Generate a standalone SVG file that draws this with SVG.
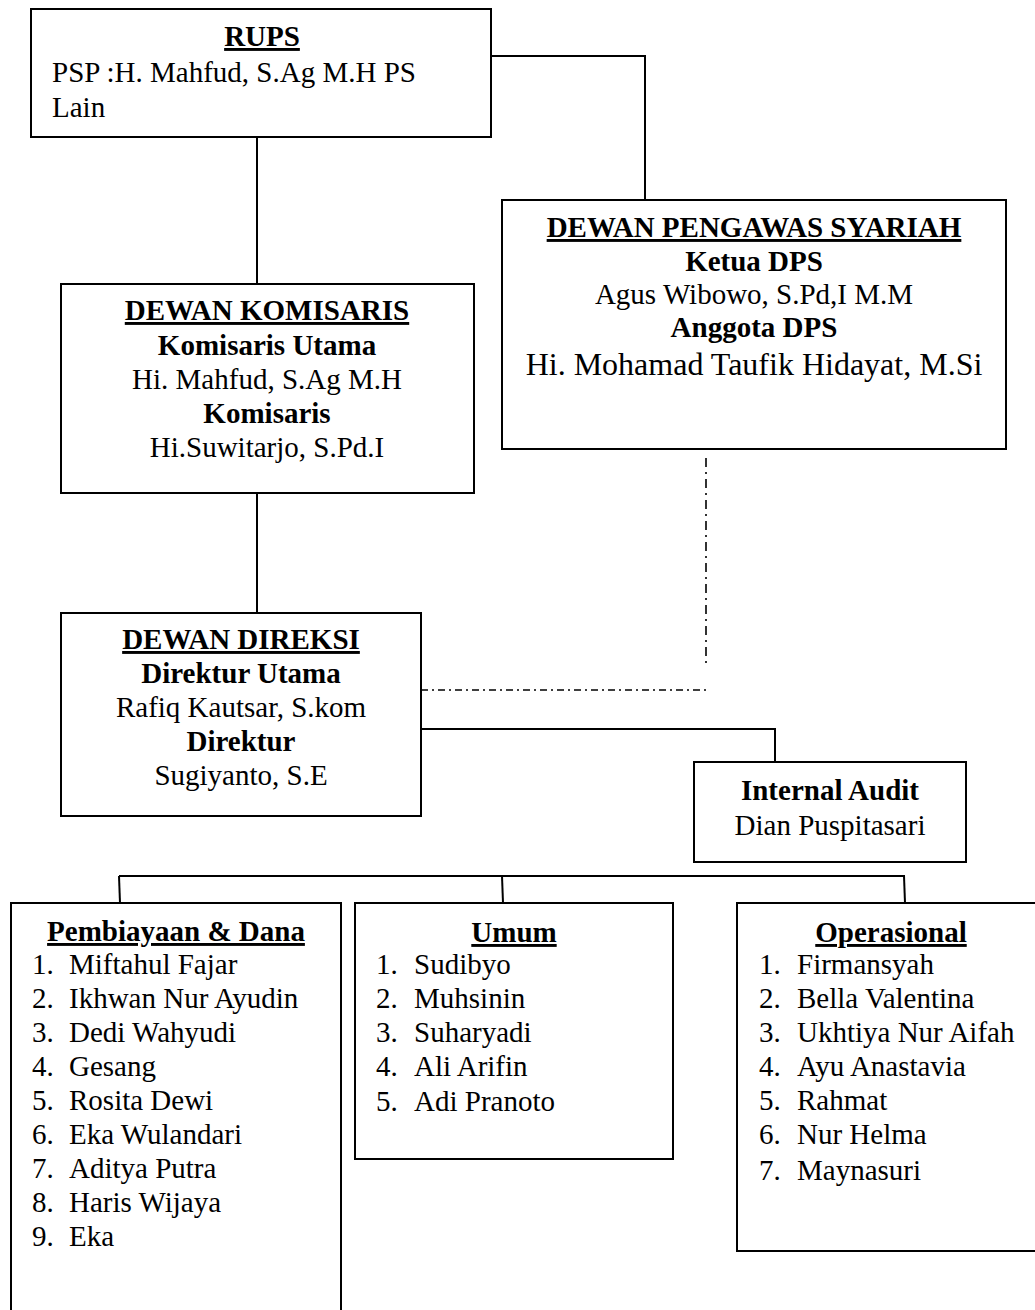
<svg xmlns="http://www.w3.org/2000/svg" width="1035" height="1310" viewBox="0 0 1035 1310">
<style>
text{font-family:"Liberation Serif","Times New Roman",serif;font-size:29px;fill:#000}
.b{font-weight:bold}
.u{font-weight:bold;text-decoration:underline}
.c{text-anchor:middle}
.box{fill:#fff;stroke:#000;stroke-width:2}
.ln{fill:none;stroke:#000;stroke-width:2}
.dd{fill:none;stroke:#000;stroke-width:1.6}
</style>
<rect width="1035" height="1310" fill="#fff"/>
<g id="connectors">
<polyline class="ln" points="491,56 645,56 645,200"/>
<line class="ln" x1="257" y1="137" x2="257" y2="284"/>
<line class="ln" x1="257" y1="493" x2="257" y2="613"/>
<line class="dd" x1="706" y1="458" x2="706" y2="665" stroke-dasharray="9 5 2 5"/>
<line class="dd" x1="421" y1="690" x2="710" y2="690" stroke-dasharray="7 4 2 4"/>
<polyline class="ln" points="421,729 775,729 775,762"/>
<line class="ln" x1="119" y1="876" x2="905" y2="876"/>
<line class="ln" x1="119" y1="876" x2="120" y2="903"/>
<line class="ln" x1="502" y1="876" x2="503" y2="903"/>
<line class="ln" x1="904" y1="876" x2="905" y2="903"/>
</g>
<g id="rups">
<rect class="box" x="31" y="9" width="460" height="128"/>
<text class="u c" x="262" y="46">RUPS</text>
<text x="52" y="82">PSP :H. Mahfud, S.Ag M.H PS</text>
<text x="52" y="117">Lain</text>
</g>
<g id="dps">
<rect class="box" x="502" y="200" width="504" height="249"/>
<text class="u c" x="754" y="237">DEWAN PENGAWAS SYARIAH</text>
<text class="b c" x="754" y="271">Ketua DPS</text>
<text class="c" x="754" y="304">Agus Wibowo, S.Pd,I M.M</text>
<text class="b c" x="754" y="337">Anggota DPS</text>
<text class="c" x="754" y="375" style="font-size:32px">Hi. Mohamad Taufik Hidayat, M.Si</text>
</g>
<g id="komisaris">
<rect class="box" x="61" y="284" width="413" height="209"/>
<text class="u c" x="267" y="320">DEWAN KOMISARIS</text>
<text class="b c" x="267" y="355">Komisaris Utama</text>
<text class="c" x="267" y="389">Hi. Mahfud, S.Ag M.H</text>
<text class="b c" x="267" y="423">Komisaris</text>
<text class="c" x="267" y="457">Hi.Suwitarjo, S.Pd.I</text>
</g>
<g id="direksi">
<rect class="box" x="61" y="613" width="360" height="203"/>
<text class="u c" x="241" y="649">DEWAN DIREKSI</text>
<text class="b c" x="241" y="683">Direktur Utama</text>
<text class="c" x="241" y="717">Rafiq Kautsar, S.kom</text>
<text class="b c" x="241" y="751">Direktur</text>
<text class="c" x="241" y="785">Sugiyanto, S.E</text>
</g>
<g id="internal-audit">
<rect class="box" x="694" y="762" width="272" height="100"/>
<text class="b c" x="830" y="800">Internal Audit</text>
<text class="c" x="830" y="835">Dian Puspitasari</text>
</g>
<g id="pembiayaan">
<rect class="box" x="11" y="903" width="330" height="430"/>
<text class="u c" x="176" y="941">Pembiayaan &amp; Dana</text>
<text x="32" y="974">1.</text><text x="69" y="974">Miftahul Fajar</text>
<text x="32" y="1008">2.</text><text x="69" y="1008">Ikhwan Nur Ayudin</text>
<text x="32" y="1042">3.</text><text x="69" y="1042">Dedi Wahyudi</text>
<text x="32" y="1076">4.</text><text x="69" y="1076">Gesang</text>
<text x="32" y="1110">5.</text><text x="69" y="1110">Rosita Dewi</text>
<text x="32" y="1144">6.</text><text x="69" y="1144">Eka Wulandari</text>
<text x="32" y="1178">7.</text><text x="69" y="1178">Aditya Putra</text>
<text x="32" y="1212">8.</text><text x="69" y="1212">Haris Wijaya</text>
<text x="32" y="1246">9.</text><text x="69" y="1246">Eka</text>
</g>
<g id="umum">
<rect class="box" x="355" y="903" width="318" height="256"/>
<text class="u c" x="514" y="942">Umum</text>
<text x="376" y="974">1.</text><text x="414" y="974">Sudibyo</text>
<text x="376" y="1008">2.</text><text x="414" y="1008">Muhsinin</text>
<text x="376" y="1042">3.</text><text x="414" y="1042">Suharyadi</text>
<text x="376" y="1076">4.</text><text x="414" y="1076">Ali Arifin</text>
<text x="376" y="1111">5.</text><text x="414" y="1111">Adi Pranoto</text>
</g>
<g id="operasional">
<rect class="box" x="737" y="903" width="310" height="348"/>
<text class="u c" x="891" y="942">Operasional</text>
<text x="759" y="974">1.</text><text x="797" y="974">Firmansyah</text>
<text x="759" y="1008">2.</text><text x="797" y="1008">Bella Valentina</text>
<text x="759" y="1042">3.</text><text x="797" y="1042">Ukhtiya Nur Aifah</text>
<text x="759" y="1076">4.</text><text x="797" y="1076">Ayu Anastavia</text>
<text x="759" y="1110">5.</text><text x="797" y="1110">Rahmat</text>
<text x="759" y="1144">6.</text><text x="797" y="1144">Nur Helma</text>
<text x="759" y="1180">7.</text><text x="797" y="1180">Maynasuri</text>
</g>
</svg>
